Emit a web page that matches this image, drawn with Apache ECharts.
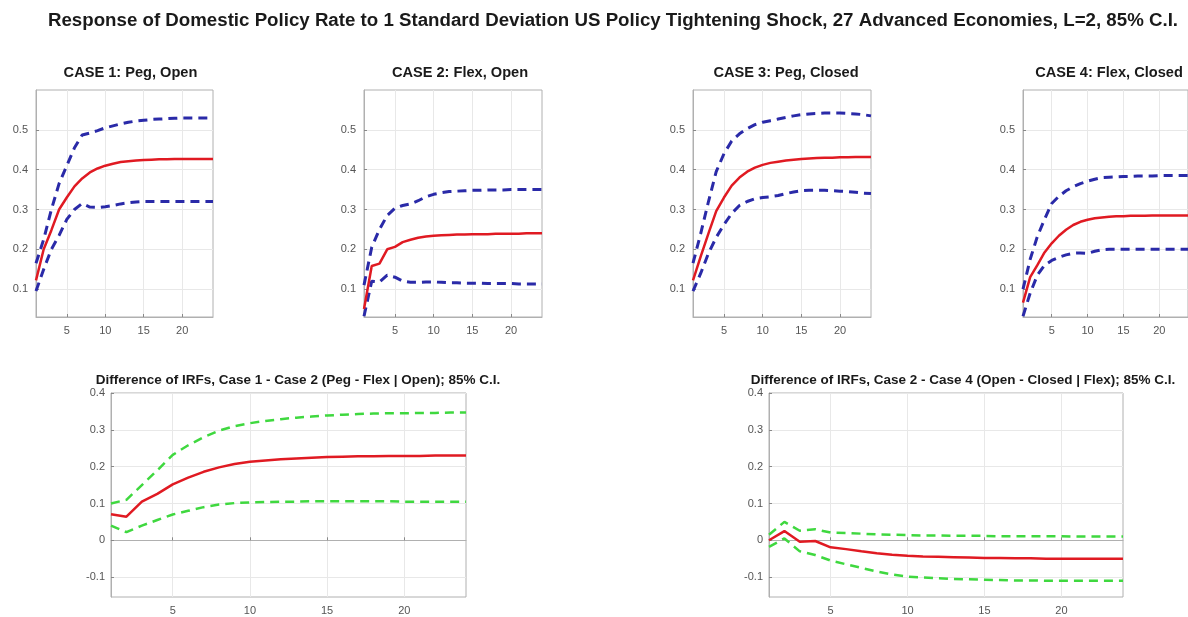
<!DOCTYPE html>
<html>
<head>
<meta charset="utf-8">
<script src="https://cdn.jsdelivr.net/npm/echarts@6/dist/echarts.min.js"></script>
<style>
html,body{margin:0;padding:0;background:#fff;}
#chart{width:1188px;height:617px;}
</style>
</head>
<body>
<div id="chart"></div>
<script>
// ---------- data ----------
const horizon = [1,2,3,4,5,6,7,8,9,10,11,12,13,14,15,16,17,18,19,20,21,22,23,24];

const mainTitle = 'Response of Domestic Policy Rate to 1 Standard Deviation US Policy Tightening Shock, 27 Advanced Economies, L=2, 85% C.I.';
const panelTitles = ['CASE 1: Peg, Open', 'CASE 2: Flex, Open', 'CASE 3: Peg, Closed', 'CASE 4: Flex, Closed',
  'Difference of IRFs, Case 1 - Case 2 (Peg - Flex | Open); 85% C.I.',
  'Difference of IRFs, Case 2 - Case 4 (Open - Closed | Flex); 85% C.I.'];

const xTicks = [5, 10, 15, 20];
const yTicksTop = [0.1, 0.2, 0.3, 0.4, 0.5];
const yTicksBottom = [-0.1, 0, 0.1, 0.2, 0.3, 0.4];

// Case 1: Peg, Open
const c1Irf = [0.122,0.200,0.248,0.300,0.330,0.358,0.378,0.393,0.403,0.410,0.415,0.419,0.421,0.423,0.424,0.425,0.426,0.426,0.427,0.427,0.427,0.427,0.427,0.427];
const c1Up  = [0.165,0.225,0.300,0.365,0.410,0.455,0.487,0.492,0.498,0.505,0.510,0.515,0.519,0.522,0.524,0.526,0.527,0.528,0.529,0.530,0.530,0.530,0.530,0.530];
const c1Lo  = [0.095,0.150,0.200,0.235,0.275,0.300,0.315,0.306,0.305,0.307,0.310,0.314,0.317,0.319,0.320,0.320,0.320,0.320,0.320,0.320,0.320,0.320,0.320,0.320];

// Case 2: Flex, Open
const c2Irf = [0.050,0.158,0.164,0.200,0.206,0.218,0.224,0.229,0.232,0.234,0.235,0.236,0.237,0.237,0.238,0.238,0.238,0.239,0.239,0.239,0.239,0.240,0.240,0.240];
const c2Up  = [0.110,0.205,0.250,0.285,0.303,0.310,0.314,0.322,0.332,0.338,0.342,0.345,0.346,0.347,0.348,0.348,0.349,0.349,0.349,0.350,0.350,0.350,0.350,0.350];
const c2Lo  = [0.032,0.120,0.118,0.135,0.130,0.120,0.117,0.117,0.118,0.118,0.117,0.116,0.116,0.115,0.115,0.115,0.114,0.114,0.114,0.114,0.113,0.113,0.113,0.113];

// Case 3: Peg, Closed
const c3Irf = [0.122,0.182,0.240,0.296,0.330,0.360,0.380,0.395,0.405,0.412,0.417,0.420,0.423,0.425,0.427,0.428,0.429,0.430,0.430,0.431,0.431,0.432,0.432,0.432];
const c3Up  = [0.165,0.240,0.320,0.395,0.440,0.472,0.490,0.503,0.513,0.519,0.523,0.527,0.531,0.535,0.538,0.540,0.541,0.542,0.542,0.542,0.541,0.540,0.538,0.535];
const c3Lo  = [0.095,0.140,0.190,0.230,0.262,0.290,0.310,0.320,0.327,0.330,0.332,0.335,0.340,0.344,0.347,0.348,0.348,0.348,0.347,0.346,0.345,0.343,0.341,0.340];

// Case 4: Flex, Closed
const c4Irf = [0.066,0.130,0.160,0.192,0.215,0.234,0.249,0.261,0.269,0.274,0.278,0.280,0.282,0.283,0.283,0.284,0.284,0.284,0.285,0.285,0.285,0.285,0.285,0.285];
const c4Up  = [0.100,0.175,0.232,0.275,0.315,0.333,0.347,0.357,0.365,0.371,0.376,0.380,0.381,0.382,0.383,0.383,0.384,0.384,0.384,0.385,0.385,0.385,0.385,0.385];
const c4Lo  = [0.032,0.090,0.135,0.160,0.172,0.180,0.186,0.190,0.191,0.190,0.195,0.199,0.200,0.200,0.200,0.200,0.200,0.200,0.200,0.200,0.200,0.200,0.200,0.200];

// Difference: Case 1 - Case 2
const d12Irf = [0.071,0.064,0.105,0.126,0.152,0.170,0.186,0.198,0.207,0.213,0.217,0.220,0.222,0.224,0.226,0.227,0.228,0.228,0.229,0.229,0.229,0.230,0.230,0.230];
const d12Up  = [0.100,0.110,0.150,0.190,0.232,0.258,0.280,0.298,0.310,0.318,0.324,0.329,0.333,0.336,0.339,0.341,0.343,0.344,0.345,0.345,0.346,0.346,0.347,0.347];
const d12Lo  = [0.040,0.022,0.040,0.055,0.070,0.080,0.090,0.097,0.101,0.103,0.104,0.105,0.105,0.106,0.106,0.106,0.106,0.106,0.106,0.105,0.105,0.105,0.105,0.105];

// Difference: Case 2 - Case 4
const d24Irf = [0.000,0.025,-0.004,-0.002,-0.019,-0.024,-0.030,-0.035,-0.039,-0.042,-0.044,-0.045,-0.046,-0.047,-0.048,-0.048,-0.049,-0.049,-0.050,-0.050,-0.050,-0.050,-0.050,-0.050];
const d24Up  = [0.015,0.050,0.026,0.030,0.021,0.020,0.018,0.016,0.015,0.014,0.013,0.013,0.012,0.012,0.012,0.011,0.011,0.011,0.011,0.011,0.010,0.010,0.010,0.010];
const d24Lo  = [-0.018,0.005,-0.030,-0.040,-0.055,-0.065,-0.075,-0.085,-0.093,-0.099,-0.101,-0.103,-0.105,-0.106,-0.107,-0.108,-0.109,-0.109,-0.110,-0.110,-0.110,-0.110,-0.110,-0.110];

const panels = [
  {irf: c1Irf, up: c1Up, lo: c1Lo, band: 'blue', ymin: 0.03, ymax: 0.6, yticks: yTicksTop},
  {irf: c2Irf, up: c2Up, lo: c2Lo, band: 'blue', ymin: 0.03, ymax: 0.6, yticks: yTicksTop},
  {irf: c3Irf, up: c3Up, lo: c3Lo, band: 'blue', ymin: 0.03, ymax: 0.6, yticks: yTicksTop},
  {irf: c4Irf, up: c4Up, lo: c4Lo, band: 'blue', ymin: 0.03, ymax: 0.6, yticks: yTicksTop},
  {irf: d12Irf, up: d12Up, lo: d12Lo, band: 'green', ymin: -0.154, ymax: 0.4, yticks: yTicksBottom},
  {irf: d24Irf, up: d24Up, lo: d24Lo, band: 'green', ymin: -0.154, ymax: 0.4, yticks: yTicksBottom}
];

// ---------- layout ----------
const FONT = '"Liberation Sans", Arial, Helvetica, sans-serif';
const gridBoxes = [
  {left: 36,  top: 90,  width: 177, height: 227},
  {left: 364, top: 90,  width: 178, height: 227},
  {left: 693, top: 90,  width: 178, height: 227},
  {left: 1023, top: 90, width: 178, height: 227},
  {left: 111, top: 393, width: 355, height: 204},
  {left: 769, top: 393, width: 354, height: 204}
];
const titleCenters = [125.5, 455, 781, 1104, 293, 958];
const RED = '#e01a22';
const BLUE = '#2a2aa8';
const GREEN = '#3fd83f';
const TICKCOL = '#555555';

const chart = echarts.init(document.getElementById('chart'), null, {renderer: 'canvas'});

const grid = [], xAxis = [], yAxis = [], series = [], title = [];

title.push({
  text: mainTitle, left: 608, top: 6, textAlign: 'center',
  textStyle: {fontFamily: FONT, fontWeight: 'bold', fontSize: 18.7, color: '#1a1a1a'}
});

panels.forEach((p, i) => {
  const g = gridBoxes[i];
  grid.push({left: g.left, top: g.top, width: g.width, height: g.height, show: true,
    borderColor: '#b0b0b0', borderWidth: 1, backgroundColor: 'transparent', containLabel: false});
  const top = i < 4;
  title.push({
    text: panelTitles[i],
    left: titleCenters[i],
    top: top ? 60 : 368,
    textAlign: 'center',
    textStyle: {fontFamily: FONT, fontWeight: 'bold', fontSize: top ? 14.6 : 13.5, color: '#1a1a1a'}
  });
  xAxis.push({
    type: 'value', gridIndex: i, min: 1, max: 24,
    axisLine: {show: true, lineStyle: {color: '#b0b0b0', width: 1}},
    axisTick: {show: true, inside: true, length: 3, customValues: xTicks, lineStyle: {color: '#888'}},
    axisLabel: {show: true, customValues: xTicks, color: TICKCOL, fontFamily: FONT, fontSize: 11, margin: 8,
      formatter: v => String(v)},
    splitLine: {show: true, lineStyle: {color: '#e8e8e8', width: 1}}
  });
  yAxis.push({
    type: 'value', gridIndex: i, min: p.ymin, max: p.ymax,
    axisLine: {show: true, lineStyle: {color: '#b0b0b0', width: 1}},
    axisTick: {show: true, inside: true, length: 3, customValues: p.yticks, lineStyle: {color: '#888'}},
    axisLabel: {show: true, customValues: p.yticks, color: TICKCOL, fontFamily: FONT, fontSize: 11, margin: top ? 8 : 6,
      formatter: v => { const r = Math.round(v * 10) / 10; return r === 0 ? '0' : String(r); }},
    splitLine: {show: true, lineStyle: {color: '#e8e8e8', width: 1}}
  });
  const bandColor = p.band === 'blue' ? BLUE : GREEN;
  const bandWidth = p.band === 'blue' ? 3 : 2.5;
  const mk = (arr) => horizon.map((h, k) => [h, arr[k]]);
  [p.up, p.lo].forEach(arr => {
    series.push({
      type: 'line', xAxisIndex: i, yAxisIndex: i, data: mk(arr), showSymbol: false, symbol: 'none',
      silent: true, animation: false, z: 2,
      lineStyle: {color: bandColor, width: bandWidth, type: [9, 6]}
    });
  });
  series.push({
    type: 'line', xAxisIndex: i, yAxisIndex: i, data: mk(p.irf), showSymbol: false, symbol: 'none',
    silent: true, animation: false, z: 3,
    lineStyle: {color: RED, width: 2.5}
  });
});

chart.setOption({
  backgroundColor: '#ffffff',
  animation: false,
  title, grid, xAxis, yAxis, series
});
</script>
</body>
</html>
